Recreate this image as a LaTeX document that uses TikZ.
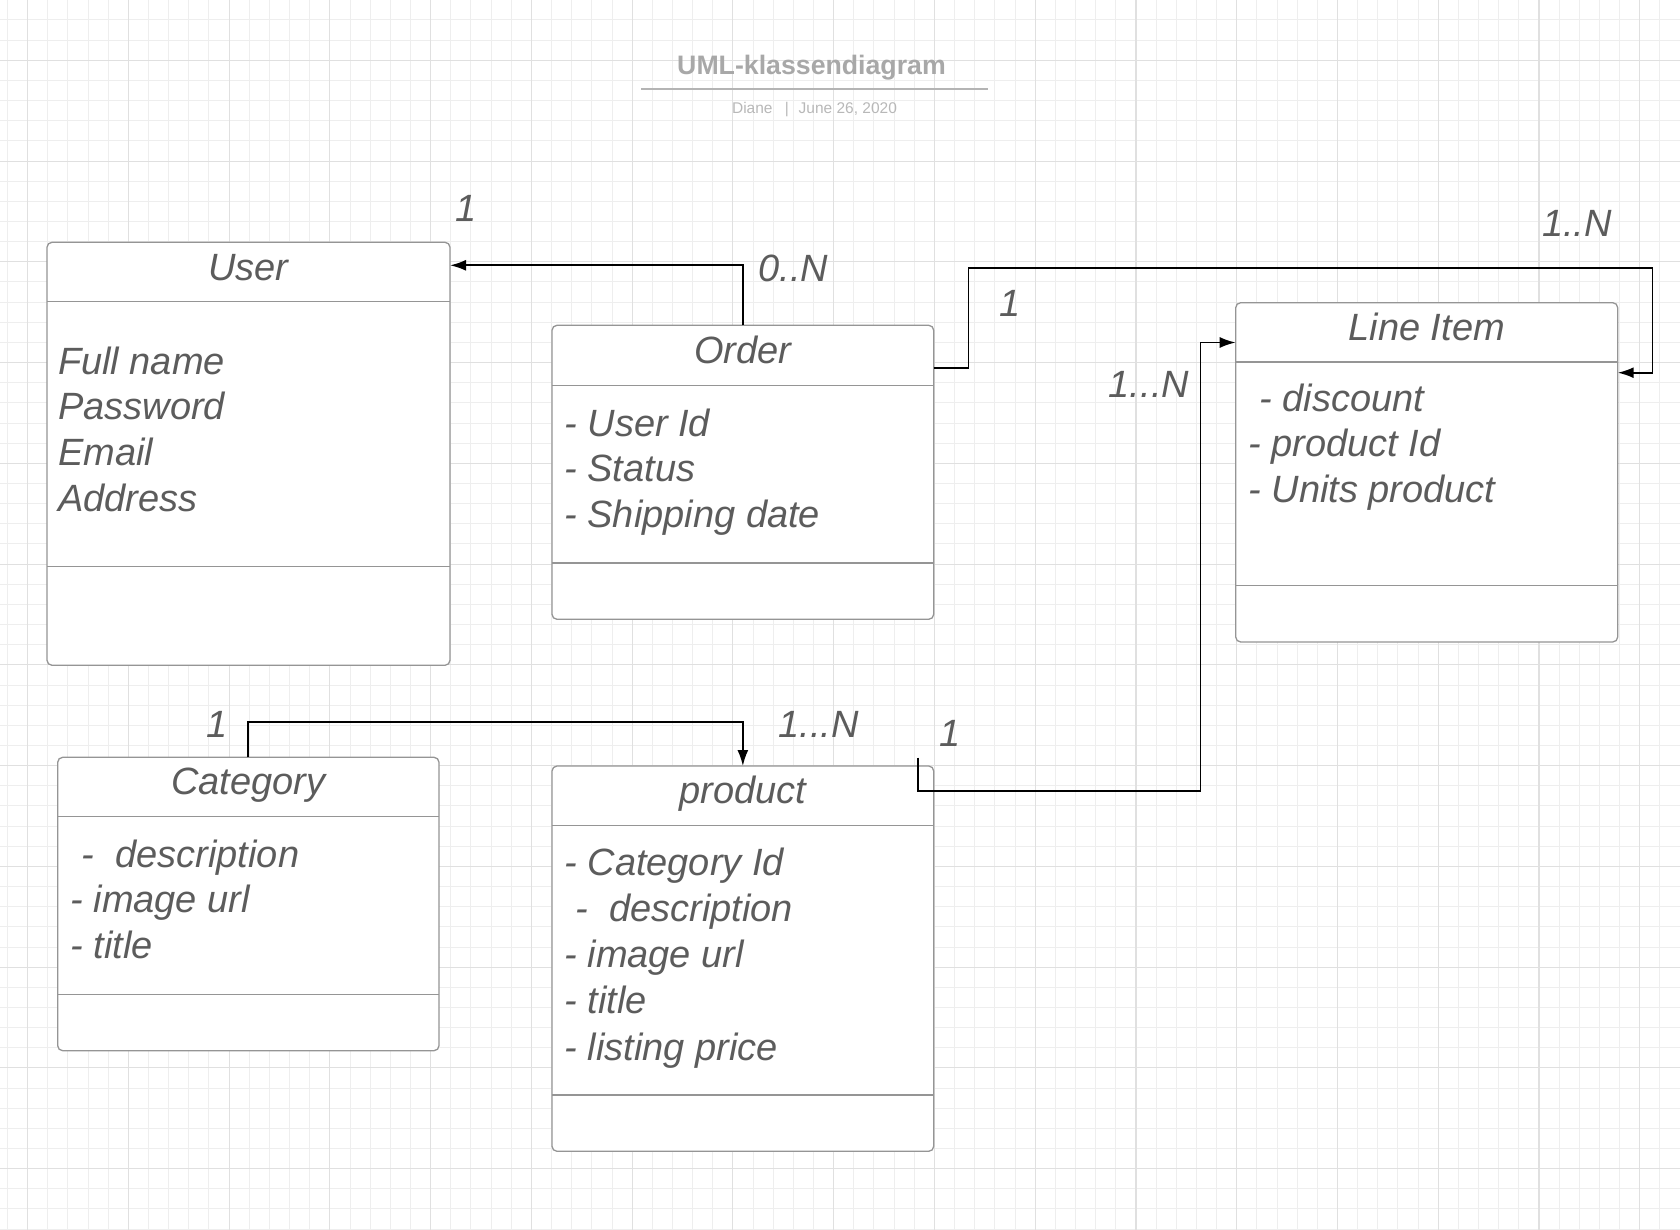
\documentclass[tikz,border=0pt]{standalone}
\usepackage{fontspec}
\setmainfont{Liberation Sans}
\usetikzlibrary{arrows.meta}
\definecolor{txtgray}{HTML}{5C5C5C}
\definecolor{boxgray}{HTML}{959595}
\definecolor{gridminor}{HTML}{EEEEEE}
\definecolor{gridmajor}{HTML}{E0E0E0}
\definecolor{titlegray}{HTML}{A8A8A8}
\definecolor{rulegray}{HTML}{B4B4B4}
\definecolor{subgray}{HTML}{B8B8B8}
\begin{document}
\begin{tikzpicture}[x=0.5pt,y=-0.5pt,
  classbox/.style={draw=boxgray, fill=white, rounded corners=2.5pt, line width=0.65pt, inner sep=0pt, outer sep=0pt, anchor=north west},
  divider/.style={draw=boxgray, line width=0.65pt},
  attr/.style={text=txtgray, font=\fontsize{19pt}{22pt}\selectfont\itshape, inner sep=0pt, anchor=base west},
  head/.style={attr, anchor=base},
  mult/.style={attr},
  conn/.style={draw=black, line width=0.95pt, -{Latex[length=8pt,width=5.5pt]}},
  minorline/.style={draw=gridminor, line width=0.5pt},
  majorline/.style={draw=gridmajor, line width=0.55pt}]
\useasboundingbox (0,0) rectangle (1680,1230);
\fill[white] (0,0) rectangle (1680,1230);
% grid
\foreach \i in {0,...,83} \draw[minorline] ({7.45+\i*20.152},0) -- ({7.45+\i*20.152},1230);
\foreach \j in {0,...,61} \draw[minorline] (0,{-0.15+\j*20.152}) -- (1680,{-0.15+\j*20.152});
\foreach \i in {0,...,16} \draw[majorline] ({27.6+\i*100.76},0) -- ({27.6+\i*100.76},1230);
\foreach \j in {0,...,11} \draw[majorline] (0,{60.3+\j*100.76}) -- (1680,{60.3+\j*100.76});

% title
\node[anchor=base, inner sep=0pt, font=\fontsize{13.35pt}{16pt}\selectfont\bfseries, text=titlegray] (title) at (811.5,75) {UML-klassendiagram};
\draw[rulegray, line width=0.7pt] (641,89) -- (988,89);
\node[anchor=base west, inner sep=0pt, font=\fontsize{7.75pt}{9pt}\selectfont, text=subgray] (author) at (731.7,114) {Diane};
\node[anchor=base, inner sep=0pt, font=\fontsize{7.75pt}{9pt}\selectfont, text=subgray] (sep) at (787,114) {|};
\node[anchor=base west, inner sep=0pt, font=\fontsize{7.75pt}{9pt}\selectfont, text=subgray] (date) at (798.3,114) {June 26, 2020};

% class boxes
\node[classbox, minimum width=201.5pt, minimum height=211.5pt] (user) at (47,242.3) {};
\node[classbox, minimum width=190.85pt, minimum height=147pt] (order) at (552,325.3) {};
\node[classbox, minimum width=191pt, minimum height=169.65pt] (lineitem) at (1235.7,302.7) {};
\node[classbox, minimum width=190.65pt, minimum height=146.7pt] (category) at (57.7,757.3) {};
\node[classbox, minimum width=190.85pt, minimum height=192.65pt] (product) at (552,766) {};

% dividers
\draw[divider] (user.west |- 0,301.3) -- (user.east |- 0,301.3);
\draw[divider] (user.west |- 0,566.7) -- (user.east |- 0,566.7);
\draw[divider] (order.west |- 0,385.3) -- (order.east |- 0,385.3);
\draw[divider] (order.west |- 0,563) -- (order.east |- 0,563);
\draw[divider] (lineitem.west |- 0,362) -- (lineitem.east |- 0,362);
\draw[divider] (lineitem.west |- 0,585.3) -- (lineitem.east |- 0,585.3);
\draw[divider] (category.west |- 0,816.7) -- (category.east |- 0,816.7);
\draw[divider] (category.west |- 0,994.3) -- (category.east |- 0,994.3);
\draw[divider] (product.west |- 0,825.7) -- (product.east |- 0,825.7);
\draw[divider] (product.west |- 0,1095) -- (product.east |- 0,1095);

% User
\node[head] (userT) at (248.5,280) {User};
\node[attr] (u1) at (57.7,374) {Full name};
\node[attr] (u2) at (57.7,419) {Password};
\node[attr] (u3) at (57.7,465) {Email};
\node[attr] (u4) at (57.7,511) {Address};

% Order
\node[head] (orderT) at (742.85,363.3) {Order};
\node[attr] (o1) at (564,436) {- User Id};
\node[attr] (o2) at (564,481.7) {- Status};
\node[attr] (o3) at (564,527.7) {- Shipping date};

% Line Item
\node[head] (lineT) at (1426.7,340.7) {Line Item};
\node[attr] (l1) at (1259,411.7) {- discount};
\node[attr] (l2) at (1248,456.7) {- product Id};
\node[attr] (l3) at (1248,502.7) {- Units product};

% Category
\node[head] (catT) at (248.35,794.3) {Category};
\node[attr] (c1) at (81.3,867.7) {-~~description};
\node[attr] (c2) at (70,912.7) {- image url};
\node[attr] (c3) at (70,958.7) {- title};

% product
\node[head] (prodT) at (742.85,803.3) {product};
\node[attr] (p1) at (564,875.7) {- Category Id};
\node[attr] (p2) at (575,921.7) {-~~description};
\node[attr] (p3) at (564,967.7) {- image url};
\node[attr] (p4) at (564,1013.3) {- title};
\node[attr] (p5) at (564,1060) {- listing price};

% connectors
\draw[conn] (order.north) |- (user.east |- 0,265.3);
\draw[conn] (order.east |- 0,367.7) -| (968.5,267.7) -| (1652.5,372.7) -- (lineitem.east |- 0,372.7);
\coordinate (pstart) at (917.7,757.5);
\draw[conn] (pstart) -- (917.7,791) -| (1200.5,342.5) -- (lineitem.west |- 0,342.5);
\draw[conn] (category.north) |- (product.north |- 0,721.7) -- (product.north);

% multiplicities
\node[mult] (m1) at (455.4,221.7) {1};
\node[mult] (m2) at (758.2,281.7) {0..N};
\node[mult] (m3) at (998.8,316.7) {1};
\node[mult] (m4) at (1541.6,236.7) {1..N};
\node[mult] (m5) at (1108.4,397.3) {1...N};
\node[mult] (m6) at (939,746) {1};
\node[mult] (m7) at (206,737.7) {1};
\node[mult] (m8) at (778,737.7) {1...N};
\end{tikzpicture}
\end{document}
